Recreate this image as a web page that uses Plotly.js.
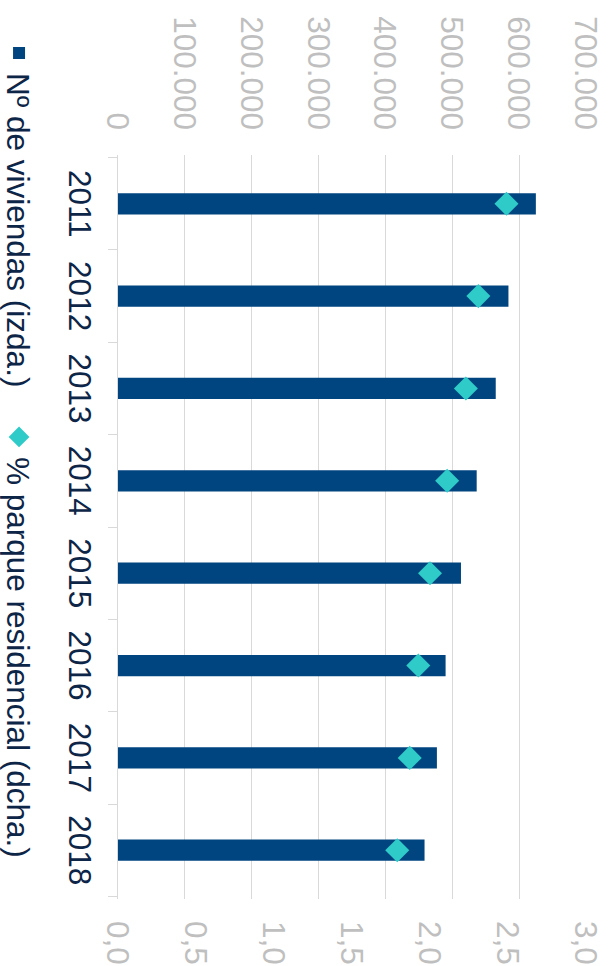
<!DOCTYPE html>
<html>
<head>
<meta charset="utf-8">
<script src="https://cdn.plot.ly/plotly-3.0.1.min.js"></script>
<style>
  html, body { margin:0; padding:0; width:612px; height:966px; overflow:hidden; background:#fff; }
  #wrap { position:absolute; left:0; top:0; width:966px; height:612px;
          transform-origin:0 0; transform:translate(612px,0) rotate(90deg); }
  #chart { width:966px; height:612px; }
</style>
</head>
<body>
<div id="wrap"><div id="chart"></div></div>
<script>
// Data
const years = ['2011', '2012', '2013', '2014', '2015', '2016', '2017', '2018'];
const viviendas = [625000, 584000, 565000, 536500, 513000, 490000, 477000, 458500];
const parque = [2.49, 2.31, 2.23, 2.11, 2.00, 1.925, 1.87, 1.79];
const seriesNames = ['Nº de viviendas (izda.)', '% parque residencial (dcha.)'];

const navy = '#0d2547';
const grey = '#bfbfbf';
const grid = '#d9d9d9';
const fam = '"Liberation Sans", Arial, sans-serif';
const fs = 31.5;

const traces = [
  {
    type: 'bar', x: years, y: viviendas, name: seriesNames[0],
    marker: { color: '#00457f', line: { width: 0 } },
    yaxis: 'y', hoverinfo: 'none', legend: 'legend'
  },
  {
    type: 'scatter', mode: 'markers', x: years, y: parque, name: seriesNames[1],
    marker: { symbol: 'diamond', size: 18.5, color: '#2ecbc8', line: { width: 0 } },
    yaxis: 'y2', hoverinfo: 'none', legend: 'legend2'
  }
];

const legendBase = {
  orientation: 'h', xref: 'paper', yref: 'paper',
  y: -0.2115, xanchor: 'left', yanchor: 'middle',
  font: { family: fam, size: fs, color: navy },
  bgcolor: 'rgba(0,0,0,0)', borderwidth: 0, itemwidth: 30
};

const layout = {
  width: 966, height: 612,
  margin: { l: 155, r: 67, t: 26, b: 118, pad: 0, autoexpand: false },
  paper_bgcolor: '#ffffff', plot_bgcolor: '#ffffff',
  separators: ',.',
  font: { family: fam, size: fs, color: navy },
  bargap: 0.77,
  showlegend: true,
  legend: Object.assign({}, legendBase, { x: -0.164 }),
  legend2: Object.assign({}, legendBase, { x: 0.352 }),
  xaxis: {
    type: 'category', tickson: 'boundaries', ticks: 'outside', ticklen: 9,
    tickcolor: grid, tickwidth: 1, showline: true, linecolor: grid, linewidth: 1,
    showgrid: false, tickfont: { family: fam, size: fs, color: navy },
    ticklabelstandoff: 10, automargin: false, fixedrange: true
  },
  yaxis: {
    range: [0, 700000], dtick: 100000, tick0: 0, tickformat: ',.0f',
    showgrid: true, gridcolor: grid, gridwidth: 1, zeroline: false, showline: false,
    ticks: '', tickfont: { family: fam, size: fs, color: grey },
    ticklabelstandoff: 24, automargin: false, fixedrange: true
  },
  yaxis2: {
    overlaying: 'y', side: 'right', range: [0, 3], dtick: 0.5, tick0: 0, tickformat: '.1f',
    showgrid: false, zeroline: false, showline: false, ticks: '',
    tickfont: { family: fam, size: fs, color: grey },
    ticklabelstandoff: 21, automargin: false, fixedrange: true
  }
};

Plotly.newPlot('chart', traces, layout, { staticPlot: true, displayModeBar: false, responsive: false });
</script>
</body>
</html>
